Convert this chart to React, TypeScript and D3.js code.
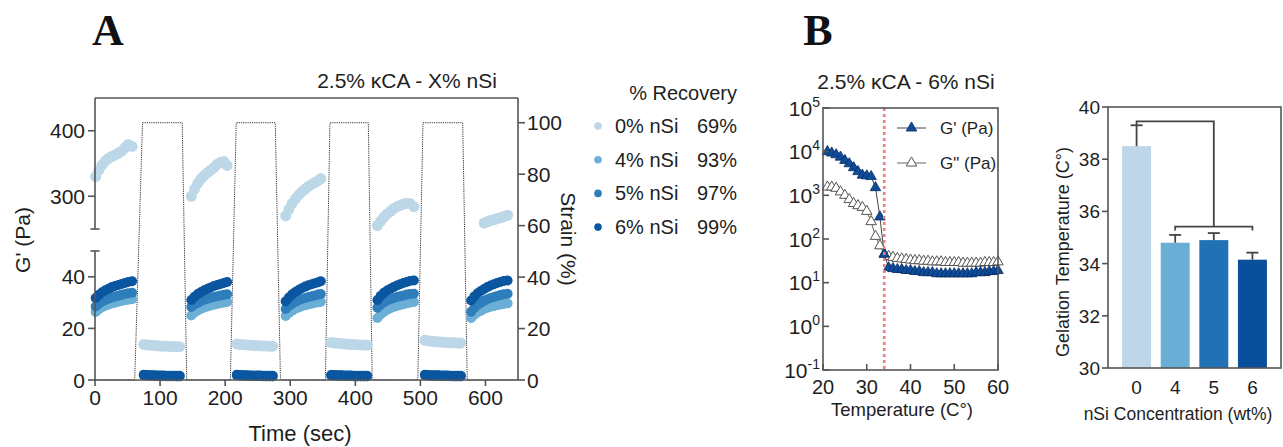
import React from "react";
import * as d3 from "d3";

// ---------- panel A : step strain recovery ----------
const timeTicks = [0, 100, 200, 300, 400, 500, 600];
const upperTicks = [300, 400];
const lowerTicks = [0, 20, 40];
const strainTicks = [0, 20, 40, 60, 80, 100];

const strainTime = [0, 61, 73, 134, 141, 208, 217, 277, 285, 354, 361, 420, 426, 496, 504, 565, 572, 650];
const strainValue = [0, 0, 100, 100, 0, 0, 100, 100, 0, 0, 100, 100, 0, 0, 100, 100, 0, 0];

// recovery (low strain) windows
const recTimes = [
  [1, 6, 11, 16, 21, 26, 31, 36, 41, 46, 51, 57],
  [148, 153, 158, 163, 168, 173, 178, 183, 188, 193, 198, 203],
  [293, 298, 303, 308, 313, 318, 323, 328, 333, 338, 343, 347],
  [434, 439, 444, 449, 454, 459, 464, 469, 474, 479, 484, 490],
  [578, 583, 588, 593, 598, 603, 608, 613, 618, 623, 628, 634],
];
// high strain windows
const lowTimes = [
  [75, 80, 85, 90, 95, 100, 105, 110, 115, 120, 125, 130],
  [218, 223, 228, 233, 238, 243, 248, 253, 258, 263, 268, 273],
  [363, 368, 373, 378, 383, 388, 393, 398, 403, 408, 413, 418],
  [507, 512, 517, 522, 527, 532, 537, 542, 547, 552, 557, 562],
];

const g0Rec = [
  [330, 340, 348, 354, 358, 361, 363, 366, 369, 374, 379, 376],
  [300, 311, 320, 327, 332, 336, 340, 344, 349, 352, 353, 347],
  [270, 280, 289, 296, 302, 307, 311, 315, 318, 321, 324, 327],
  [255, 262, 268, 273, 277, 281, 284, 286, 288, 289, 289, 284],
  [null, null, null, null, 259, 261, 263, 264, 266, 267, 269, 271],
];
const g4Rec = [
  [26.4, 27.4, 28.2, 28.8, 29.3, 29.7, 30, 30.3, 30.6, 30.9, 31.1, 31.3],
  [25, 26.2, 27, 27.6, 28.1, 28.5, 28.9, 29.2, 29.5, 29.8, 30, 30.2],
  [24.8, 26, 26.9, 27.6, 28.1, 28.6, 29, 29.3, 29.6, 29.9, 30.1, 30.3],
  [24, 25.4, 26.4, 27.2, 27.8, 28.3, 28.7, 29.1, 29.4, 29.7, 30, 30.2],
  [24, 25.3, 26.2, 26.9, 27.5, 28, 28.4, 28.7, 29, 29.3, 29.5, 29.7],
];
const g5Rec = [
  [28.5, 29.6, 30.4, 31, 31.5, 32, 32.4, 32.7, 33, 33.3, 33.6, 33.8],
  [28.3, 29.3, 30, 30.6, 31.1, 31.5, 31.9, 32.2, 32.5, 32.8, 33, 33.2],
  [27.5, 28.7, 29.6, 30.3, 30.9, 31.4, 31.8, 32.2, 32.5, 32.8, 33.1, 33.3],
  [28, 29.2, 30.1, 30.8, 31.3, 31.8, 32.2, 32.5, 32.8, 33.1, 33.3, 33.4],
  [26.5, 28, 29.2, 30, 30.7, 31.3, 31.8, 32.2, 32.6, 32.9, 33.2, 33.4],
];
const g6Rec = [
  [31.8, 33, 34, 34.8, 35.4, 36, 36.4, 36.8, 37.2, 37.6, 38, 38.3],
  [31, 32.3, 33.3, 34.1, 34.8, 35.4, 35.9, 36.4, 36.8, 37.2, 37.6, 38],
  [30.5, 32, 33.2, 34.1, 34.9, 35.6, 36.2, 36.7, 37.1, 37.5, 37.9, 38.3],
  [31, 32.6, 33.8, 34.7, 35.4, 36, 36.6, 37.1, 37.6, 38, 38.4, 38.6],
  [30.8, 32.4, 33.6, 34.5, 35.3, 36, 36.6, 37.1, 37.6, 38, 38.4, 38.6],
];

const g0Low = [
  [13.8, 13.6, 13.5, 13.4, 13.3, 13.2, 13.1, 13.1, 13, 13, 12.9, 12.9],
  [14, 13.8, 13.7, 13.6, 13.5, 13.4, 13.3, 13.3, 13.2, 13.2, 13.1, 13.1],
  [14.5, 14.3, 14.2, 14.1, 14, 13.9, 13.8, 13.8, 13.7, 13.6, 13.6, 13.5],
  [15.4, 15.2, 15, 14.9, 14.8, 14.7, 14.6, 14.5, 14.4, 14.4, 14.3, 14.3],
];
const g4Low = [
  [1.8, 1.7, 1.7, 1.6, 1.6, 1.6, 1.5, 1.5, 1.5, 1.5, 1.4, 1.4],
  [1.8, 1.7, 1.7, 1.6, 1.6, 1.5, 1.5, 1.5, 1.5, 1.4, 1.4, 1.4],
  [1.7, 1.7, 1.6, 1.6, 1.6, 1.5, 1.5, 1.5, 1.4, 1.4, 1.4, 1.4],
  [1.8, 1.7, 1.6, 1.6, 1.6, 1.5, 1.5, 1.5, 1.5, 1.4, 1.4, 1.4],
];
const g5Low = [
  [1.9, 1.8, 1.7, 1.7, 1.6, 1.6, 1.6, 1.5, 1.5, 1.5, 1.5, 1.5],
  [1.9, 1.8, 1.7, 1.7, 1.6, 1.6, 1.6, 1.6, 1.5, 1.5, 1.5, 1.5],
  [1.8, 1.8, 1.7, 1.7, 1.6, 1.6, 1.6, 1.5, 1.5, 1.5, 1.5, 1.5],
  [1.9, 1.8, 1.7, 1.7, 1.7, 1.6, 1.6, 1.6, 1.5, 1.5, 1.5, 1.5],
];
const g6Low = [
  [2.0, 1.9, 1.8, 1.8, 1.7, 1.7, 1.7, 1.6, 1.6, 1.6, 1.6, 1.6],
  [2.0, 1.9, 1.8, 1.8, 1.7, 1.7, 1.7, 1.7, 1.6, 1.6, 1.6, 1.6],
  [1.9, 1.9, 1.8, 1.8, 1.7, 1.7, 1.7, 1.6, 1.6, 1.6, 1.6, 1.6],
  [2.0, 1.9, 1.8, 1.8, 1.8, 1.7, 1.7, 1.7, 1.6, 1.6, 1.6, 1.6],
];

const seriesNames = ["0% nSi", "4% nSi", "5% nSi", "6% nSi"];
const recoveryPct = ["69%", "93%", "97%", "99%"];
const seriesColors = ["#bcd7e8", "#6baed6", "#2e7ebc", "#0a56a0"];
const recValues = [g0Rec, g4Rec, g5Rec, g6Rec];
const lowValues = [g0Low, g4Low, g5Low, g6Low];

// ---------- panel B1 : temperature sweep ----------
const tempC = [21, 22, 23, 24, 25, 26, 27, 28, 29, 30, 31, 32, 33, 34, 35, 36, 37, 38, 39, 40,
  41, 42, 43, 44, 45, 46, 47, 48, 49, 50, 51, 52, 53, 54, 55, 56, 57, 58, 59, 60];
const gPrime = [10000, 9300, 8500, 7500, 6300, 5300, 4300, 3500, 2900, 2800, 2700, 1500, 320, 45, 22,
  21, 20, 20, 19, 19, 18, 18, 17, 17, 17, 16, 16, 16, 16, 16, 16, 16, 16, 16, 17, 17, 17, 18, 18, 19];
const gDouble = [1550, 1550, 1450, 1200, 1000, 800, 650, 580, 530, 430, 250, 115, 70, 45, 40,
  38, 36, 35, 34, 33, 32, 32, 31, 31, 30, 30, 30, 29, 29, 29, 29, 28, 28, 28, 28, 28, 29, 29, 29, 30];
const gelPoint = 34;
const tempTicks = [20, 30, 40, 50, 60];
const logExps = [-1, 0, 1, 2, 3, 4, 5];

// ---------- panel B2 : gelation temperature ----------
const nsiConc = ["0", "4", "5", "6"];
const gelTemp = [38.5, 34.8, 34.9, 34.15];
const gelErr = [0.8, 0.3, 0.27, 0.27];
const barColors = ["#bdd7e9", "#6aaed6", "#2171b5", "#0a4f9b"];
const gelTicks = [30, 32, 34, 36, 38, 40];

const font = "'Liberation Sans', Arial, Helvetica, sans-serif";
const ink = "#1e1e1e";
const axisCol = "#555";

export default function App() {
  // panel A scales
  const x = d3.scaleLinear().domain([0, 650]).range([95, 518]);
  const yUp = d3.scaleLinear().domain([250, 450]).range([229, 98]);
  const yLo = d3.scaleLinear().domain([0, 50]).range([380, 251]);
  const yS = d3.scaleLinear().domain([0, 110]).range([380, 97]);
  const yG = (v: number) => (v >= 250 ? yUp(v) : yLo(v));

  const strainPath =
    d3
      .line<number>()
      .x((t) => x(t))
      .y((_, i) => yS(strainValue[i]))(strainTime) || "";

  const pts = seriesNames.map((_, si) => {
    const out: { t: number; v: number }[] = [];
    recTimes.forEach((ts, k) =>
      ts.forEach((t, i) => {
        const v = recValues[si][k][i];
        if (v != null) out.push({ t, v });
      })
    );
    lowTimes.forEach((ts, k) =>
      ts.forEach((t, i) => out.push({ t, v: lowValues[si][k][i] }))
    );
    return out;
  });

  // panel B1 scales
  const xT = d3.scaleLinear().domain([20, 60]).range([823, 998]);
  const yL = d3.scaleLog().domain([0.1, 1e5]).range([370, 108]);
  const lineT = (vals: number[]) =>
    d3
      .line<number>()
      .x((t) => xT(t))
      .y((_, i) => yL(vals[i]))(tempC) || "";
  const tri = d3.symbol(d3.symbolTriangle, 48)() || "";

  // panel B2 scales
  const xB = d3
    .scaleBand<string>()
    .domain(nsiConc)
    .range([1108, 1281])
    .paddingInner(0.25)
    .paddingOuter(0.365);
  const yB = d3.scaleLinear().domain([30, 40]).range([368, 107]);
  const cx = (c: string) => (xB(c) as number) + xB.bandwidth() / 2;

  return (
    <svg
      width={1283}
      height={447}
      style={{ position: "absolute", left: 0, top: 0, background: "#fff" }}
      fontFamily={font}
      fill={ink}
    >
      {/* panel letters */}
      <text x={108} y={45} textAnchor="middle" fontFamily="'Liberation Serif', 'Times New Roman', serif" fontWeight="bold" fontSize={44} fill="#111">A</text>
      <text x={818} y={45} textAnchor="middle" fontFamily="'Liberation Serif', 'Times New Roman', serif" fontWeight="bold" fontSize={44} fill="#111">B</text>

      {/* ================= panel A ================= */}
      <text x={407} y={88} textAnchor="middle" fontSize={21}>2.5% κCA - X% nSi</text>

      <path d={strainPath} fill="none" stroke="#333" strokeWidth={1} strokeDasharray="1.2 1" />

      {pts.map((arr, si) => (
        <g key={si} fill={seriesColors[si]}>
          {arr.map((p, i) => (
            <circle key={i} cx={x(p.t)} cy={yG(p.v)} r={si === 0 ? 5.5 : 5} />
          ))}
        </g>
      ))}

      {/* frame and axes */}
      <g stroke={axisCol} strokeWidth={1.6} fill="none">
        <line x1={95} x2={x(650)} y1={98} y2={98} />
        <line x1={x(650)} x2={x(650)} y1={98} y2={380} />
        <line x1={95} x2={x(650)} y1={380} y2={380} />
        <line x1={95} x2={95} y1={98} y2={yUp(250)} />
        <line x1={90.5} x2={99.5} y1={yUp(250)} y2={yUp(250)} />
        <line x1={95} x2={95} y1={yLo(50)} y2={380} />
        <line x1={90.5} x2={99.5} y1={yLo(50)} y2={yLo(50)} />
        {upperTicks.map((v) => (
          <line key={v} x1={88} x2={95} y1={yUp(v)} y2={yUp(v)} />
        ))}
        {lowerTicks.map((v) => (
          <line key={v} x1={88} x2={95} y1={yLo(v)} y2={yLo(v)} />
        ))}
        {strainTicks.map((v) => (
          <line key={v} x1={x(650)} x2={x(650) + 7} y1={yS(v)} y2={yS(v)} />
        ))}
        {timeTicks.map((t) => (
          <line key={t} x1={x(t)} x2={x(t)} y1={380} y2={386} />
        ))}
      </g>
      <g fontSize={21} textAnchor="end">
        {upperTicks.map((v) => (
          <text key={v} x={85} y={yUp(v) + 7.5}>{v}</text>
        ))}
        {lowerTicks.map((v) => (
          <text key={v} x={85} y={yLo(v) + 7.5}>{v}</text>
        ))}
      </g>
      <g fontSize={21}>
        {strainTicks.map((v) => (
          <text key={v} x={527} y={yS(v) + 7.5}>{v}</text>
        ))}
      </g>
      <g fontSize={21} textAnchor="middle">
        {timeTicks.map((t) => (
          <text key={t} x={x(t)} y={405}>{t}</text>
        ))}
      </g>
      <text x={300} y={441} textAnchor="middle" fontSize={22}>Time (sec)</text>
      <text transform="translate(30,240) rotate(-90)" textAnchor="middle" fontSize={21}>G' (Pa)</text>
      <text transform="translate(561,239) rotate(90)" textAnchor="middle" fontSize={21}>Strain (%)</text>

      {/* legend A */}
      <text x={737} y={100} textAnchor="end" fontSize={20}>% Recovery</text>
      {seriesNames.map((n, i) => {
        const yy = 126 + i * 33.7;
        return (
          <g key={n} fontSize={20}>
            <circle cx={598} cy={yy} r={3.8} fill={seriesColors[i]} />
            <text x={615} y={yy + 7}>{n}</text>
            <text x={737} y={yy + 7} textAnchor="end">{recoveryPct[i]}</text>
          </g>
        );
      })}

      {/* ================= panel B1 ================= */}
      <text x={906} y={89} textAnchor="middle" fontSize={21}>2.5% κCA - 6% nSi</text>

      <path d={lineT(gDouble)} fill="none" stroke="#666" strokeWidth={1} />
      {tempC.map((t, i) => (
        <path key={t} d={tri} transform={`translate(${xT(t)},${yL(gDouble[i])})`} fill="#fff" stroke="#555" strokeWidth={1} />
      ))}
      <path d={lineT(gPrime)} fill="none" stroke="#444" strokeWidth={1} />
      {tempC.map((t, i) => (
        <path key={t} d={tri} transform={`translate(${xT(t)},${yL(gPrime[i])})`} fill="#0d4b9b" stroke="#0a2c60" strokeWidth={0.8} />
      ))}
      <line x1={xT(gelPoint)} x2={xT(gelPoint)} y1={108} y2={370} stroke="#f27c7c" strokeWidth={2.6} strokeDasharray="3 3" />

      <g stroke={axisCol} strokeWidth={1.6} fill="none">
        <rect x={823} y={108} width={998 - 823} height={370 - 108} />
        {logExps.map((e) => (
          <line key={e} x1={823} x2={829} y1={yL(10 ** e)} y2={yL(10 ** e)} />
        ))}
        {tempTicks.map((t) => (
          <line key={t} x1={xT(t)} x2={xT(t)} y1={370} y2={364} />
        ))}
      </g>
      <g fontSize={21} textAnchor="end">
        {logExps.map((e) => (
          <text key={e} x={820} y={yL(10 ** e) + 7.5}>
            10<tspan dy={-9} fontSize={14}>{e}</tspan>
          </text>
        ))}
      </g>
      <g fontSize={20} textAnchor="middle">
        {tempTicks.map((t) => (
          <text key={t} x={xT(t)} y={394}>{t}</text>
        ))}
      </g>
      <text x={902} y={416} textAnchor="middle" fontSize={18.5}>Temperature (C°)</text>

      {/* legend B1 */}
      <line x1={897} x2={926} y1={128} y2={128} stroke="#444" strokeWidth={1} />
      <path d={tri} transform="translate(911.5,128)" fill="#0d4b9b" stroke="#0a2c60" strokeWidth={0.8} />
      <text x={940} y={134} fontSize={17}>G' (Pa)</text>
      <line x1={897} x2={926} y1={163} y2={163} stroke="#666" strokeWidth={1} />
      <path d={tri} transform="translate(911.5,163)" fill="#fff" stroke="#555" strokeWidth={1} />
      <text x={940} y={169} fontSize={17}>G" (Pa)</text>

      {/* ================= panel B2 ================= */}
      {nsiConc.map((c, i) => (
        <rect key={c} x={xB(c)} y={yB(gelTemp[i])} width={xB.bandwidth()} height={yB(30) - yB(gelTemp[i])} fill={barColors[i]} />
      ))}
      <g stroke="#444" strokeWidth={1.8} fill="none">
        {nsiConc.map((c, i) => (
          <g key={c}>
            <line x1={cx(c)} x2={cx(c)} y1={yB(gelTemp[i])} y2={yB(gelTemp[i] + gelErr[i])} />
            <line x1={cx(c) - 6} x2={cx(c) + 6} y1={yB(gelTemp[i] + gelErr[i])} y2={yB(gelTemp[i] + gelErr[i])} />
          </g>
        ))}
        {/* significance bracket */}
        <polyline
          points={`${cx("0")},${yB(gelTemp[0] + gelErr[0])} ${cx("0")},${yB(39.45)} ${cx("5")},${yB(39.45)} ${cx("5")},${yB(35.42)}`}
        />
        <polyline
          points={`${cx("4")},${yB(35.27)} ${cx("4")},${yB(35.42)} ${cx("6")},${yB(35.42)} ${cx("6")},${yB(35.27)}`}
        />
      </g>
      <g stroke={axisCol} strokeWidth={1.6} fill="none">
        <rect x={1108} y={107} width={1281 - 1108} height={368 - 107} />
        {gelTicks.map((v) => (
          <line key={v} x1={1102} x2={1108} y1={yB(v)} y2={yB(v)} />
        ))}
      </g>
      <g fontSize={19} textAnchor="end">
        {gelTicks.map((v) => (
          <text key={v} x={1100} y={yB(v) + 7}>{v}</text>
        ))}
      </g>
      <g fontSize={19} textAnchor="middle">
        {nsiConc.map((c) => (
          <text key={c} x={cx(c)} y={394}>{c}</text>
        ))}
      </g>
      <text x={1178} y={420} textAnchor="middle" fontSize={17.5}>nSi Concentration (wt%)</text>
      <text transform="translate(1069,252) rotate(-90)" textAnchor="middle" fontSize={18}>Gelation Temperature (C°)</text>
    </svg>
  );
}
